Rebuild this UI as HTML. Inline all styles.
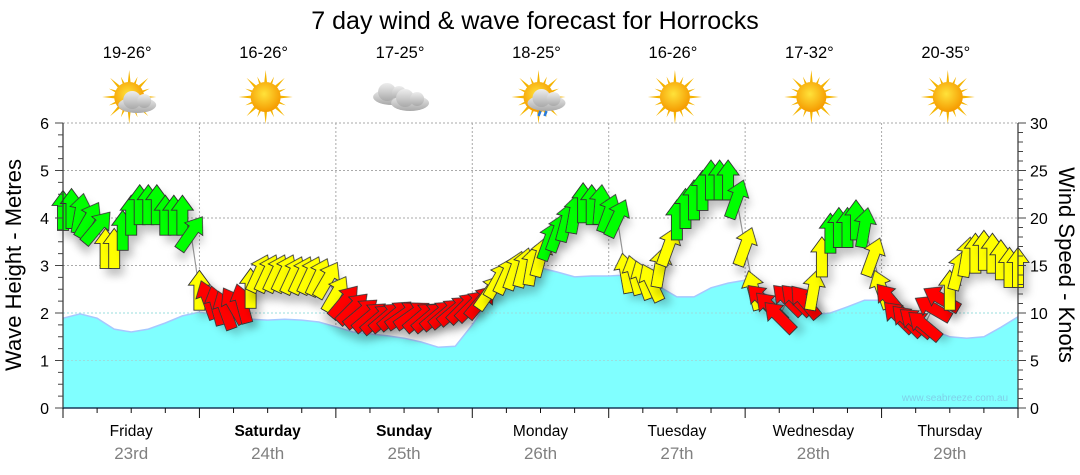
<!DOCTYPE html>
<html><head><meta charset="utf-8">
<style>
html,body{margin:0;padding:0;background:#fff;}
svg{display:block;font-family:"Liberation Sans",sans-serif;}
</style></head>
<body>
<svg id="chart" width="1080" height="475" viewBox="0 0 1080 475" xmlns="http://www.w3.org/2000/svg">
<defs>
<filter id="sh" x="-50%" y="-50%" width="200%" height="200%">
<feDropShadow dx="5" dy="7" stdDeviation="4" flood-color="#000" flood-opacity="0.18"/>
</filter>
<radialGradient id="sunG" cx="45%" cy="40%" r="60%"><stop offset="0" stop-color="#ffe23a"/><stop offset="1" stop-color="#f59a00"/></radialGradient>
<linearGradient id="cloudG" x1="0" y1="0" x2="0" y2="1"><stop offset="0" stop-color="#eeeeee"/><stop offset="1" stop-color="#a9a9a9"/></linearGradient>
</defs>
<text x="535" y="29" font-size="25" text-anchor="middle" fill="#000">7 day wind &amp; wave forecast for Horrocks</text>
<g id="header"></g>
<g id="grid"></g>
<g id="wave"></g>
<g id="wind"></g>
<g id="axes"></g>
<text x="955" y="401" font-size="10" fill="#7fd0e8" text-anchor="middle">www.seabreeze.com.au</text>
<text transform="translate(21,265) rotate(-90)" font-size="22" text-anchor="middle">Wave Height - Metres</text>
<text transform="translate(1059,265) rotate(90)" font-size="22" text-anchor="middle">Wind Speed - Knots</text>
</svg>
<script>
const days = ["Friday","Saturday","Sunday","Monday","Tuesday","Wednesday","Thursday"];
const dates = ["23rd","24th","25th","26th","27th","28th","29th"];
const boldDays = [false,true,true,false,false,false,false];
const temps = ["19-26°","16-26°","17-25°","18-25°","16-26°","17-32°","20-35°"];
const icons = ["suncloud","sun","cloud","rain","sun","sun","sun"];
const waveHeights = [1.89,1.98,1.89,1.66,1.6,1.66,1.79,1.94,2.02,1.96,1.89,1.87,1.85,1.87,1.85,1.81,1.71,1.6,1.56,1.52,1.47,1.39,1.28,1.3,1.75,2.3,2.8,2.95,2.95,2.86,2.76,2.78,2.78,2.8,2.74,2.55,2.34,2.34,2.53,2.63,2.69,2.44,2.23,2.06,1.96,2.0,2.13,2.27,2.27,1.9,1.75,1.64,1.5,1.47,1.5,1.7,1.92];
const windSpeeds = [
20.8,21,20.5,19.8,19,16.8,16.8,18.7,20.3,21.4,21.4,21.4,20.3,20.3,20.3,18.4,
12.4,11.4,10.8,10.3,10.8,11,12.6,14.2,14.2,14.2,14.2,14,14,14,13.8,13.5,
12,11.2,10.5,10,9.6,9.4,9.6,9.8,9.8,9.8,9.6,9.6,9.8,10,10.3,10.6,
10.8,11.2,12.2,13.5,14,14.5,14.8,15,15.9,17.6,18.5,19.6,20.5,21.6,21.4,21.4,
20.5,20,14.2,14,13.5,13.2,14.8,17,19.8,21,21.9,22.9,24,24,24,22,
17,12.4,11.4,10.6,9.6,11.4,11.4,11.2,12.4,15.9,18.4,19,19,19.8,19,15.9,
12.5,11.4,9.6,9.2,9,8.7,10.5,11.5,12.4,14.5,15.9,16.3,16.6,16.3,15.6,14.8,14.8];
const windDirs = [
0,0,10,30,40,0,0,0,0,0,0,0,0,0,0,35,
0,-20,-15,-20,-30,-15,0,25,25,25,25,25,25,25,25,30,
30,40,45,50,50,50,50,50,55,55,50,50,50,50,50,45,
45,40,35,30,25,20,15,10,15,20,20,15,10,0,0,5,
20,25,-10,-15,-20,-25,10,20,0,0,0,0,0,0,0,20,
20,-15,-45,-45,-45,-45,-45,-40,10,0,0,0,0,0,10,20,
-20,-40,-45,-45,-50,-50,-60,-60,0,15,10,0,0,0,0,0,0];
const leftTicks = [0,1,2,3,4,5,6];
const rightTicks = [0,5,10,15,20,25,30];

const NS="http://www.w3.org/2000/svg";
const X0=63,X1=1018,Y0=408,Y1=123;
const dayW=(X1-X0)/7;
function xDay(d){return X0+d*dayW;}
function yM(m){return Y0-(Y0-Y1)*m/6;}
function yK(k){return Y0-(Y0-Y1)*k/30;}
function mk(tag,attrs,parent){const e=document.createElementNS(NS,tag);for(const k in attrs)e.setAttribute(k,attrs[k]);parent.appendChild(e);return e;}

const grid=document.getElementById('grid');
const axes=document.getElementById('axes');
const header=document.getElementById('header');
// horizontal grid
leftTicks.forEach(v=>{ if(v>0){const l=mk('line',{x1:X0,x2:X1,y1:yM(v),y2:yM(v),stroke:'#aaa','stroke-dasharray':'2,2','stroke-width':1},grid);

}});
for(let d=1;d<7;d++){const l=mk('line',{x1:xDay(d),x2:xDay(d),y1:Y1,y2:Y0,stroke:'#aaa','stroke-dasharray':'2,2','stroke-width':1},grid);

}

// wave area
const wg=document.getElementById('wave');
const step=(X1-X0)/(waveHeights.length-1);
let d='M'+X0+','+Y0;
waveHeights.forEach((h,i)=>{d+=' L'+(X0+i*step).toFixed(1)+','+yM(h).toFixed(1);});
d+=' L'+X1+','+Y0+' Z';
const area=mk('path',{d:d,fill:'#80ffff',stroke:'none'},wg);


let d2='';
waveHeights.forEach((h,i)=>{d2+=(i?' L':'M')+(X0+i*step).toFixed(1)+','+yM(h).toFixed(1);});
const wl=mk('path',{d:d2,fill:'none',stroke:'#a6c8ff','stroke-width':1.5},wg);


// redraw inner dotted grid over the wave lightly
leftTicks.forEach(v=>{ if(v>0 && v<3){const l=mk('line',{x1:X0,x2:X1,y1:yM(v),y2:yM(v),stroke:'#9adede','stroke-dasharray':'2,2','stroke-width':1},wg);

}});

// wind
const wind=document.getElementById('wind');
const wstep=(X1-X0)/(windSpeeds.length-1);
let pl='';
windSpeeds.forEach((k,i)=>{pl+=(X0+i*wstep).toFixed(1)+','+yK(k).toFixed(1)+' ';});
const line=mk('polyline',{points:pl,fill:'none',stroke:'#999','stroke-width':1.2},wind);


const arrowPath='M0,-20 L11,-5 L5.5,-5 L5.5,20 L-5.5,20 L-5.5,-5 L-11,-5 Z';
windSpeeds.forEach((k,i)=>{
  const col=k>=17.5?'#00ff00':(k>=12?'#ffff00':'#ff0000');
  const a=mk('path',{d:arrowPath,fill:col,stroke:'#333','stroke-width':0.9,filter:'url(#sh)',
    transform:'translate('+(X0+i*wstep).toFixed(1)+','+yK(k).toFixed(1)+') rotate('+windDirs[i]+')'},wind);
  
  
});

// axes
const la=mk('line',{x1:X0,x2:X0,y1:Y1,y2:Y0+1,stroke:'#333','stroke-width':1.2},axes);


const ra=mk('line',{x1:X1,x2:X1,y1:Y1,y2:Y0+1,stroke:'#333','stroke-width':1.2},axes);


const ba=mk('line',{x1:X0,x2:X1,y1:Y0,y2:Y0,stroke:'#1a3a5a','stroke-width':1.5},axes);


for(let m=0;m<=24;m++){const y=Y0-(Y0-Y1)*m/24;const t=mk('line',{x1:X0-(m%4==0?8:5),x2:X0,y1:y,y2:y,stroke:'#444','stroke-width':1},axes);

}
for(let m=0;m<=30;m++){const y=yK(m);const t=mk('line',{x1:X1,x2:X1+(m%5==0?8:5),y1:y,y2:y,stroke:'#444','stroke-width':1},axes);

}
leftTicks.forEach(v=>{const t=mk('text',{x:X0-14,y:yM(v)+6,'font-size':16,'text-anchor':'end',fill:'#000'},axes);t.textContent=v;

});
rightTicks.forEach(v=>{const t=mk('text',{x:X1+12,y:yK(v)+6,'font-size':16,'text-anchor':'start',fill:'#000'},axes);t.textContent=v;

});
for(let q=0;q<=28;q++){const x=X0+q*dayW/4;const t=mk('line',{x1:x,x2:x,y1:Y0,y2:Y0+(q%4==0?10:5),stroke:'#111','stroke-width':1},axes);

}
days.forEach((n,i)=>{const cx=xDay(i+0.5);
const t=mk('text',{x:cx,y:436,'font-size':15.5,'text-anchor':'middle',fill:'#000','font-weight':boldDays[i]?'bold':'normal'},axes);t.textContent=n;


const t2=mk('text',{x:cx,y:459,'font-size':17,'text-anchor':'middle',fill:'#808080'},axes);t2.textContent=dates[i];


const t3=mk('text',{x:cx-4,y:58,'font-size':16.5,'text-anchor':'middle',fill:'#000'},header);t3.textContent=temps[i];


const g=mk('g',{transform:'translate('+(cx-2)+',97)'},header);


function sun(gp,s){for(let r=0;r<16;r++){mk('path',{d:'M-3,0 L0,'+(-(r%2?22:27)*s)+' L3,0 Z',fill:'#f5b400',transform:'rotate('+(r*22.5)+')'},gp);}mk('circle',{r:15*s,fill:'url(#sunG)'},gp);}
function cloud(gp,dx,dy){const c=mk('g',{transform:'translate('+dx+','+dy+')'},gp);
mk('ellipse',{cx:0,cy:4,rx:19,ry:8,fill:'url(#cloudG)'},c);mk('circle',{cx:-5,cy:-1,r:9,fill:'url(#cloudG)'},c);mk('circle',{cx:7,cy:0,r:7,fill:'url(#cloudG)'},c);}
if(icons[i]=='sun'){sun(g,1);}
else if(icons[i]=='suncloud'){sun(g,1);cloud(g,8,4);}
else if(icons[i]=='cloud'){cloud(g,-10,-4);cloud(g,8,2);}
else if(icons[i]=='rain'){sun(g,1);cloud(g,8,2);mk('path',{d:'M2,14 l-2,5 M8,14 l-2,5',stroke:'#2a7ad8','stroke-width':2.5},g);}
});
</script>
</body></html>
